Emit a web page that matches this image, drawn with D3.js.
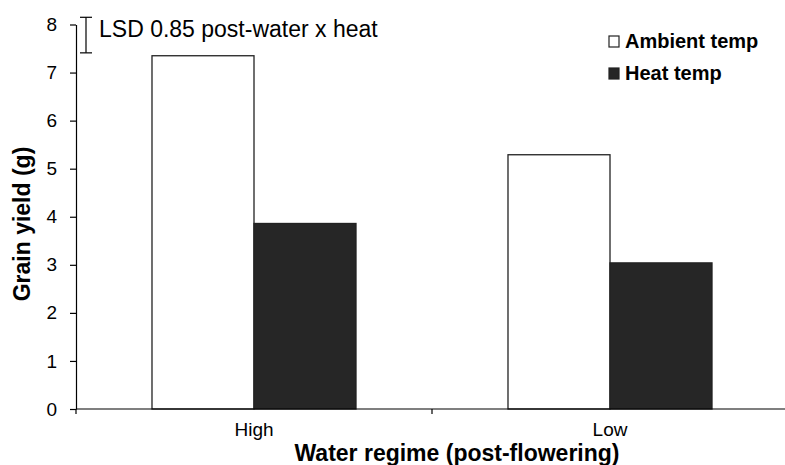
<!DOCTYPE html>
<meta charset="utf-8">
<style>
body { margin: 0; background: #fff; }
text { font-family: "Liberation Sans", Arial, sans-serif; fill: #000; }
.tick text { font-size: 19px; }
.axis path, .axis line { stroke: #000; stroke-width: 1.2px; }
.axTitle { font-weight: bold; font-size: 23px; }
.legend text { font-weight: bold; font-size: 20px; }
</style>
<body>
<script src="https://d3js.org/d3.v7.min.js"></script>
<script>
// data
const regimes = ["High", "Low"];
const series = ["Ambient temp", "Heat temp"];
const ambient = [7.35, 5.29];
const heat = [3.86, 3.04];
const yTicks = [0, 1, 2, 3, 4, 5, 6, 7, 8];
const lsdLabel = "LSD 0.85 post-water x heat";
const lsdEnds = [7.41, 8.15];

const width = 785, height = 465;
const colors = { "Ambient temp": "#ffffff", "Heat temp": "#262626" };

const svg = d3.select("body").append("svg")
  .attr("width", width)
  .attr("height", height);

const x0 = d3.scaleBand().domain(regimes).range([76, 788]).padding(0);
const x1 = d3.scaleBand().domain(series).range([0, x0.bandwidth()])
  .paddingInner(0).paddingOuter(0.745);
const y = d3.scaleLinear().domain([0, 8]).range([409, 24.5]);

const rows = regimes.map(function (r, i) {
  return { regime: r, values: [
    { key: "Ambient temp", value: ambient[i] },
    { key: "Heat temp", value: heat[i] }
  ] };
});

// bars
svg.append("g").selectAll("g")
  .data(rows)
  .enter().append("g")
    .attr("transform", function (d) { return "translate(" + x0(d.regime) + ",0)"; })
  .selectAll("rect")
  .data(function (d) { return d.values; })
  .enter().append("rect")
    .attr("x", function (d) { return x1(d.key); })
    .attr("y", function (d) { return y(d.value); })
    .attr("width", x1.bandwidth())
    .attr("height", function (d) { return y(0) - y(d.value); })
    .style("fill", function (d) { return colors[d.key]; })
    .style("stroke", "#222")
    .style("stroke-width", 1.3);

// y axis
svg.append("g")
  .attr("class", "axis")
  .attr("transform", "translate(76,0)")
  .call(d3.axisLeft(y).tickValues(yTicks).tickFormat(d3.format("d"))
    .tickSize(6).tickSizeOuter(0).tickPadding(13));

// x axis: line, boundary ticks, centred labels
const xAxis = svg.append("g").attr("class", "axis");
xAxis.append("line")
  .attr("x1", x0.range()[0]).attr("x2", x0.range()[1])
  .attr("y1", y(0)).attr("y2", y(0));
xAxis.selectAll(".bnd")
  .data(regimes.map(function (r) { return x0(r); }).concat([x0.range()[1]]))
  .enter().append("line")
    .attr("x1", function (d) { return d; }).attr("x2", function (d) { return d; })
    .attr("y1", y(0)).attr("y2", y(0) + 5);
svg.append("g")
  .attr("class", "tick")
  .selectAll("text")
  .data(regimes)
  .enter().append("text")
    .attr("x", function (d) { return x0(d) + x0.bandwidth() / 2; })
    .attr("y", 436)
    .attr("text-anchor", "middle")
    .text(function (d) { return d; });

// axis titles
svg.append("text")
  .attr("class", "axTitle")
  .attr("x", 457)
  .attr("y", 461)
  .attr("text-anchor", "middle")
  .text("Water regime (post-flowering)");
svg.append("text")
  .attr("class", "axTitle")
  .attr("transform", "translate(30,224) rotate(-90)")
  .attr("text-anchor", "middle")
  .text("Grain yield (g)");

// LSD bar
const lsd = svg.append("g").attr("class", "axis");
lsd.append("line").attr("x1", 86).attr("x2", 86).attr("y1", y(lsdEnds[0])).attr("y2", y(lsdEnds[1]));
lsd.selectAll(".cap").data(lsdEnds).enter().append("line")
  .attr("x1", 80).attr("x2", 92)
  .attr("y1", function (d) { return y(d); })
  .attr("y2", function (d) { return y(d); });
svg.append("text")
  .attr("x", 99).attr("y", 37)
  .style("font-size", "23px")
  .text(lsdLabel);

// legend
const legend = svg.append("g").attr("class", "legend")
  .selectAll("g")
  .data(series)
  .enter().append("g")
    .attr("transform", function (d, i) { return "translate(609," + (36 + i * 32) + ")"; });
legend.append("rect")
  .attr("width", 10).attr("height", 11)
  .style("fill", function (d) { return colors[d]; })
  .style("stroke", "#222").style("stroke-width", 1.2);
legend.append("text")
  .attr("x", 16).attr("y", 12)
  .text(function (d) { return d; });
</script>
</body>
